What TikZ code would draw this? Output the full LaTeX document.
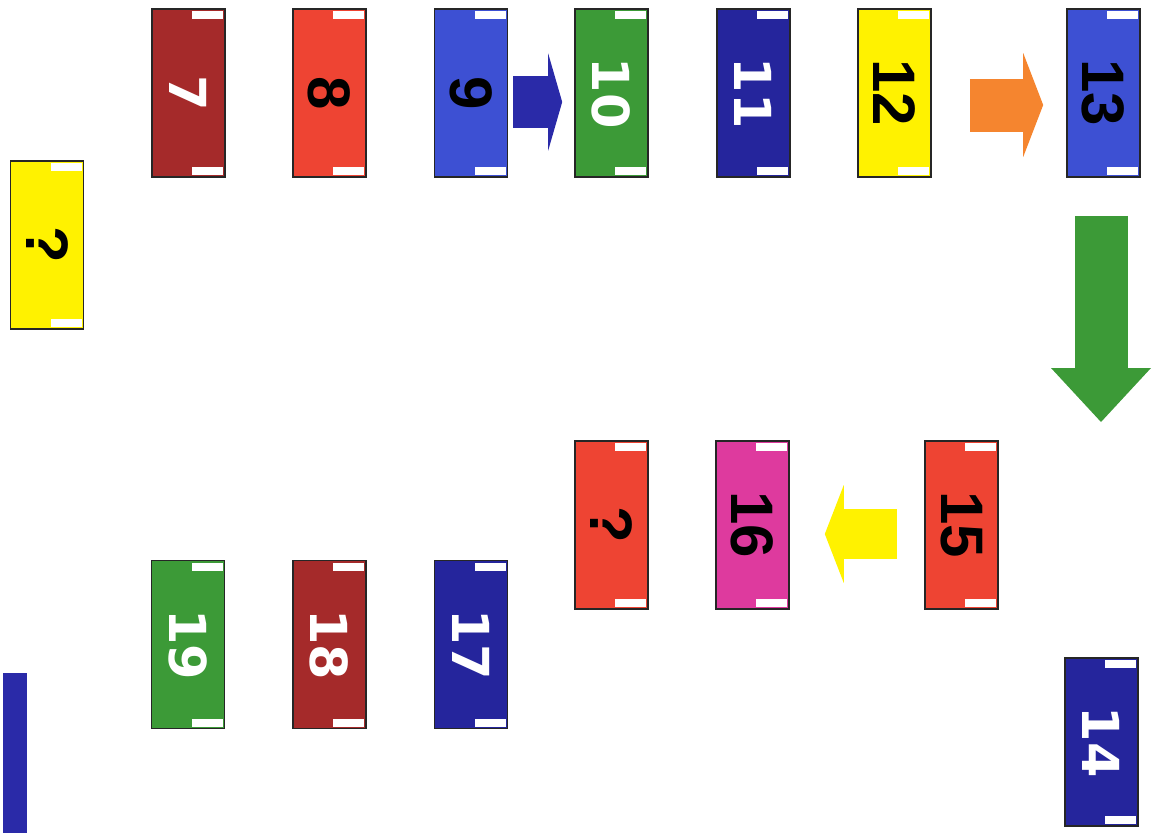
\documentclass[tikz,border=0pt]{standalone}
\usepackage{fontspec}
\usetikzlibrary{arrows.meta}
\newfontfamily\darkface{Liberation Sans}
\newfontfamily\lightface{DejaVu Sans}
\definecolor{brick}{HTML}{A52A2A}
\definecolor{tomato}{HTML}{EE4433}
\definecolor{royal}{HTML}{3D50D3}
\definecolor{leaf}{HTML}{3C9A37}
\definecolor{deepblue}{HTML}{25259C}
\definecolor{lemon}{HTML}{FFF200}
\definecolor{fuchsia}{HTML}{DE3A9E}
\definecolor{tangerine}{HTML}{F5852F}
\definecolor{arrowblue}{HTML}{2A2AA8}
\tikzset{
    card/.style={draw=black!85, line width=1.6pt, minimum width=73pt,
        minimum height=168pt, inner sep=0pt,
        path picture={
            \fill[white] ([shift={(-33pt,-2pt)}]path picture bounding box.north east)
                rectangle ([shift={(-2pt,-10pt)}]path picture bounding box.north east);
            \fill[white] ([shift={(-33pt,2pt)}]path picture bounding box.south east)
                rectangle ([shift={(-2pt,10pt)}]path picture bounding box.south east);
        }},
    lightnum/.style={text=white, font=\lightface\bfseries\fontsize{51}{51}\selectfont},
    darknum/.style={text=black, font=\darkface\bfseries\fontsize{60}{60}\selectfont},
    blockarrow/.style n args={3}{line width=#1,
        -{Triangle[length=#2, width=#3, line width=0pt]}}
}
\begin{document}
\begin{tikzpicture}[x=1pt, y=-1pt]
    \useasboundingbox (0,0) rectangle (1152,833);
    \node[card, fill=lemon, darknum] (qy) at (47,245) {\rotatebox{-90}{?}};
    \node[card, fill=brick, lightnum] (c7) at (188.5,93) {\rotatebox{-90}{7}};
    \node[card, fill=tomato, darknum] (c8) at (329.5,93) {\rotatebox{-90}{8}};
    \node[card, fill=royal, darknum] (c9) at (471,93) {\rotatebox{-90}{9}};
    \node[card, fill=leaf, lightnum] (c10) at (611.5,93) {\rotatebox{-90}{10}};
    \node[card, fill=deepblue, lightnum] (c11) at (753.5,93) {\rotatebox{-90}{11}};
    \node[card, fill=lemon, darknum] (c12) at (894.5,93) {\rotatebox{-90}{12}};
    \node[card, fill=royal, darknum] (c13) at (1103.5,93) {\rotatebox{-90}{13}};
    \node[card, fill=deepblue, lightnum] (c14) at (1101.5,742) {\rotatebox{-90}{14}};
    \node[card, fill=tomato, darknum] (c15) at (961.5,525) {\rotatebox{-90}{15}};
    \node[card, fill=fuchsia, darknum] (c16) at (752.5,525) {\rotatebox{-90}{16}};
    \node[card, fill=tomato, darknum] (qr) at (611.5,525) {\rotatebox{-90}{?}};
    \node[card, fill=deepblue, lightnum] (c17) at (471,644.5) {\rotatebox{-90}{17}};
    \node[card, fill=brick, lightnum] (c18) at (329.5,644.5) {\rotatebox{-90}{18}};
    \node[card, fill=leaf, lightnum] (c19) at (188,644.5) {\rotatebox{-90}{19}};
    \coordinate (gtip) at (1101,422);
    \draw[arrowblue, blockarrow={52pt}{14pt}{97pt}, shorten <=5pt, shorten >=12pt]
        ([yshift=-9pt]c9.east) -- ([yshift=-9pt]c10.west);
    \draw[tangerine, blockarrow={53pt}{20pt}{104pt}, shorten <=38pt, shorten >=23pt]
        ([yshift=-12pt]c12.east) -- ([yshift=-12pt]c13.west);
    \draw[leaf, blockarrow={53pt}{54pt}{100pt}, shorten <=38pt]
        ([xshift=-2.5pt]c13.south) -- (gtip);
    \draw[lemon, blockarrow={50pt}{19pt}{98pt}, shorten <=27pt, shorten >=35pt]
        ([yshift=-9pt]c15.west) -- ([yshift=-9pt]c16.east);
    \fill[arrowblue] (3,673) rectangle (27,833);
\end{tikzpicture}
\end{document}
